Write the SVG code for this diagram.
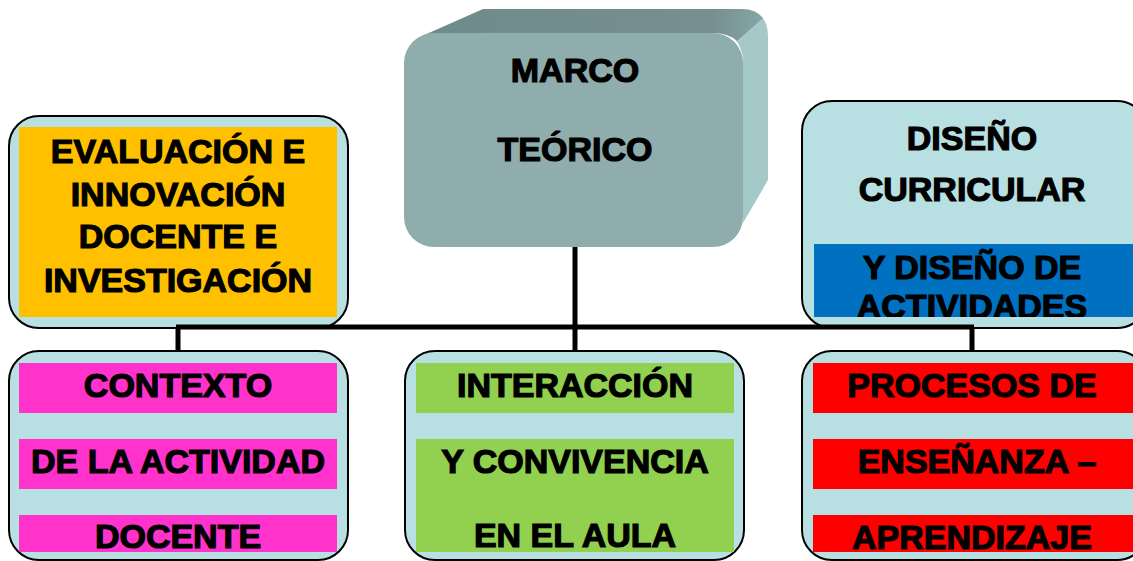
<svg xmlns="http://www.w3.org/2000/svg" width="1133" height="561" viewBox="0 0 1133 561">
  <style>
    .box { fill: #b8e0e2; stroke: #000; stroke-width: 2; }
    .t { font-family: "Liberation Sans", Arial, sans-serif; font-weight: bold; font-size: 34px; fill: #000; stroke: #000; stroke-width: 1.2; text-anchor: middle; }
    .conn { stroke: #000; stroke-width: 5; fill: none; }
  </style>
  <defs>
    <clipPath id="clipBlue"><rect x="814" y="244" width="319" height="73"/></clipPath>
    <linearGradient id="topFace" x1="0" y1="0" x2="1" y2="0">
      <stop offset="0" stop-color="#6f8b8c"/>
      <stop offset="0.85" stop-color="#768f90"/>
      <stop offset="1" stop-color="#86a6a7"/>
    </linearGradient>
  </defs>
  <rect width="1133" height="561" fill="#fff"/>

  <g id="marco-teorico">
    <path d="M 736,40 L 762,17 Q 768,24 768,36 L 768,180 L 743,223 L 743,62 Q 743,50 736,40 Z" fill="#a5c8c9"/>
    <path d="M 422,36 L 483,9 L 742,9 Q 756,9 763,18 L 737,41 Q 728,33 713,33 L 436,33 Z" fill="url(#topFace)"/>
    <rect x="404" y="33" width="339" height="214" rx="30" fill="#8fadad"/>
    <text class="t" x="575" y="82">MARCO</text>
    <text class="t" x="575" y="161">TEÓRICO</text>
  </g>

  <g id="evaluacion">
    <rect class="box" x="9" y="116" width="339" height="212" rx="30"/>
    <rect x="19" y="127" width="318" height="190" fill="#ffc000"/>
    <text class="t" x="178" y="163">EVALUACIÓN E</text>
    <text class="t" x="178" y="206">INNOVACIÓN</text>
    <text class="t" x="178" y="248">DOCENTE E</text>
    <text class="t" x="178" y="292">INVESTIGACIÓN</text>
  </g>

  <g id="diseno">
    <rect class="box" x="802" y="101" width="345" height="227" rx="30"/>
    <rect x="814" y="244" width="319" height="73" fill="#0070c0"/>
    <text class="t" x="972" y="150">DISEÑO</text>
    <text class="t" x="972" y="201">CURRICULAR</text>
    <g clip-path="url(#clipBlue)">
      <text class="t" x="972" y="279">Y DISEÑO DE</text>
      <text class="t" x="972" y="318">ACTIVIDADES</text>
    </g>
  </g>

  <g id="contexto">
    <rect class="box" x="9" y="351" width="339" height="209" rx="30"/>
    <rect x="19" y="363" width="318" height="50" fill="#ff33cc"/>
    <rect x="19" y="439" width="318" height="50" fill="#ff33cc"/>
    <rect x="19" y="515" width="318" height="37" fill="#ff33cc"/>
    <text class="t" x="178" y="397">CONTEXTO</text>
    <text class="t" x="178" y="473">DE LA ACTIVIDAD</text>
    <text class="t" x="178" y="548">DOCENTE</text>
  </g>

  <g id="interaccion">
    <rect class="box" x="405" y="351" width="339" height="209" rx="30"/>
    <rect x="416" y="363" width="318" height="50" fill="#92d050"/>
    <rect x="416" y="439" width="318" height="113" fill="#92d050"/>
    <text class="t" x="575" y="397">INTERACCIÓN</text>
    <text class="t" x="575" y="473">Y CONVIVENCIA</text>
    <text class="t" x="575" y="547">EN EL AULA</text>
  </g>

  <g id="procesos">
    <rect class="box" x="802" y="351" width="345" height="209" rx="30"/>
    <rect x="813" y="363" width="320" height="50" fill="#ff0000"/>
    <rect x="813" y="439" width="320" height="50" fill="#ff0000"/>
    <rect x="813" y="515" width="320" height="37" fill="#ff0000"/>
    <text class="t" x="972" y="397">PROCESOS DE</text>
    <text class="t" x="977" y="473">ENSEÑANZA –</text>
    <text class="t" x="972" y="549">APRENDIZAJE</text>
  </g>

  <g id="connectors">
    <line class="conn" x1="575" y1="247" x2="575" y2="351"/>
    <line class="conn" x1="176" y1="327" x2="974" y2="327"/>
    <line class="conn" x1="178" y1="327" x2="178" y2="351"/>
    <line class="conn" x1="972" y1="327" x2="972" y2="351"/>
  </g>
</svg>
